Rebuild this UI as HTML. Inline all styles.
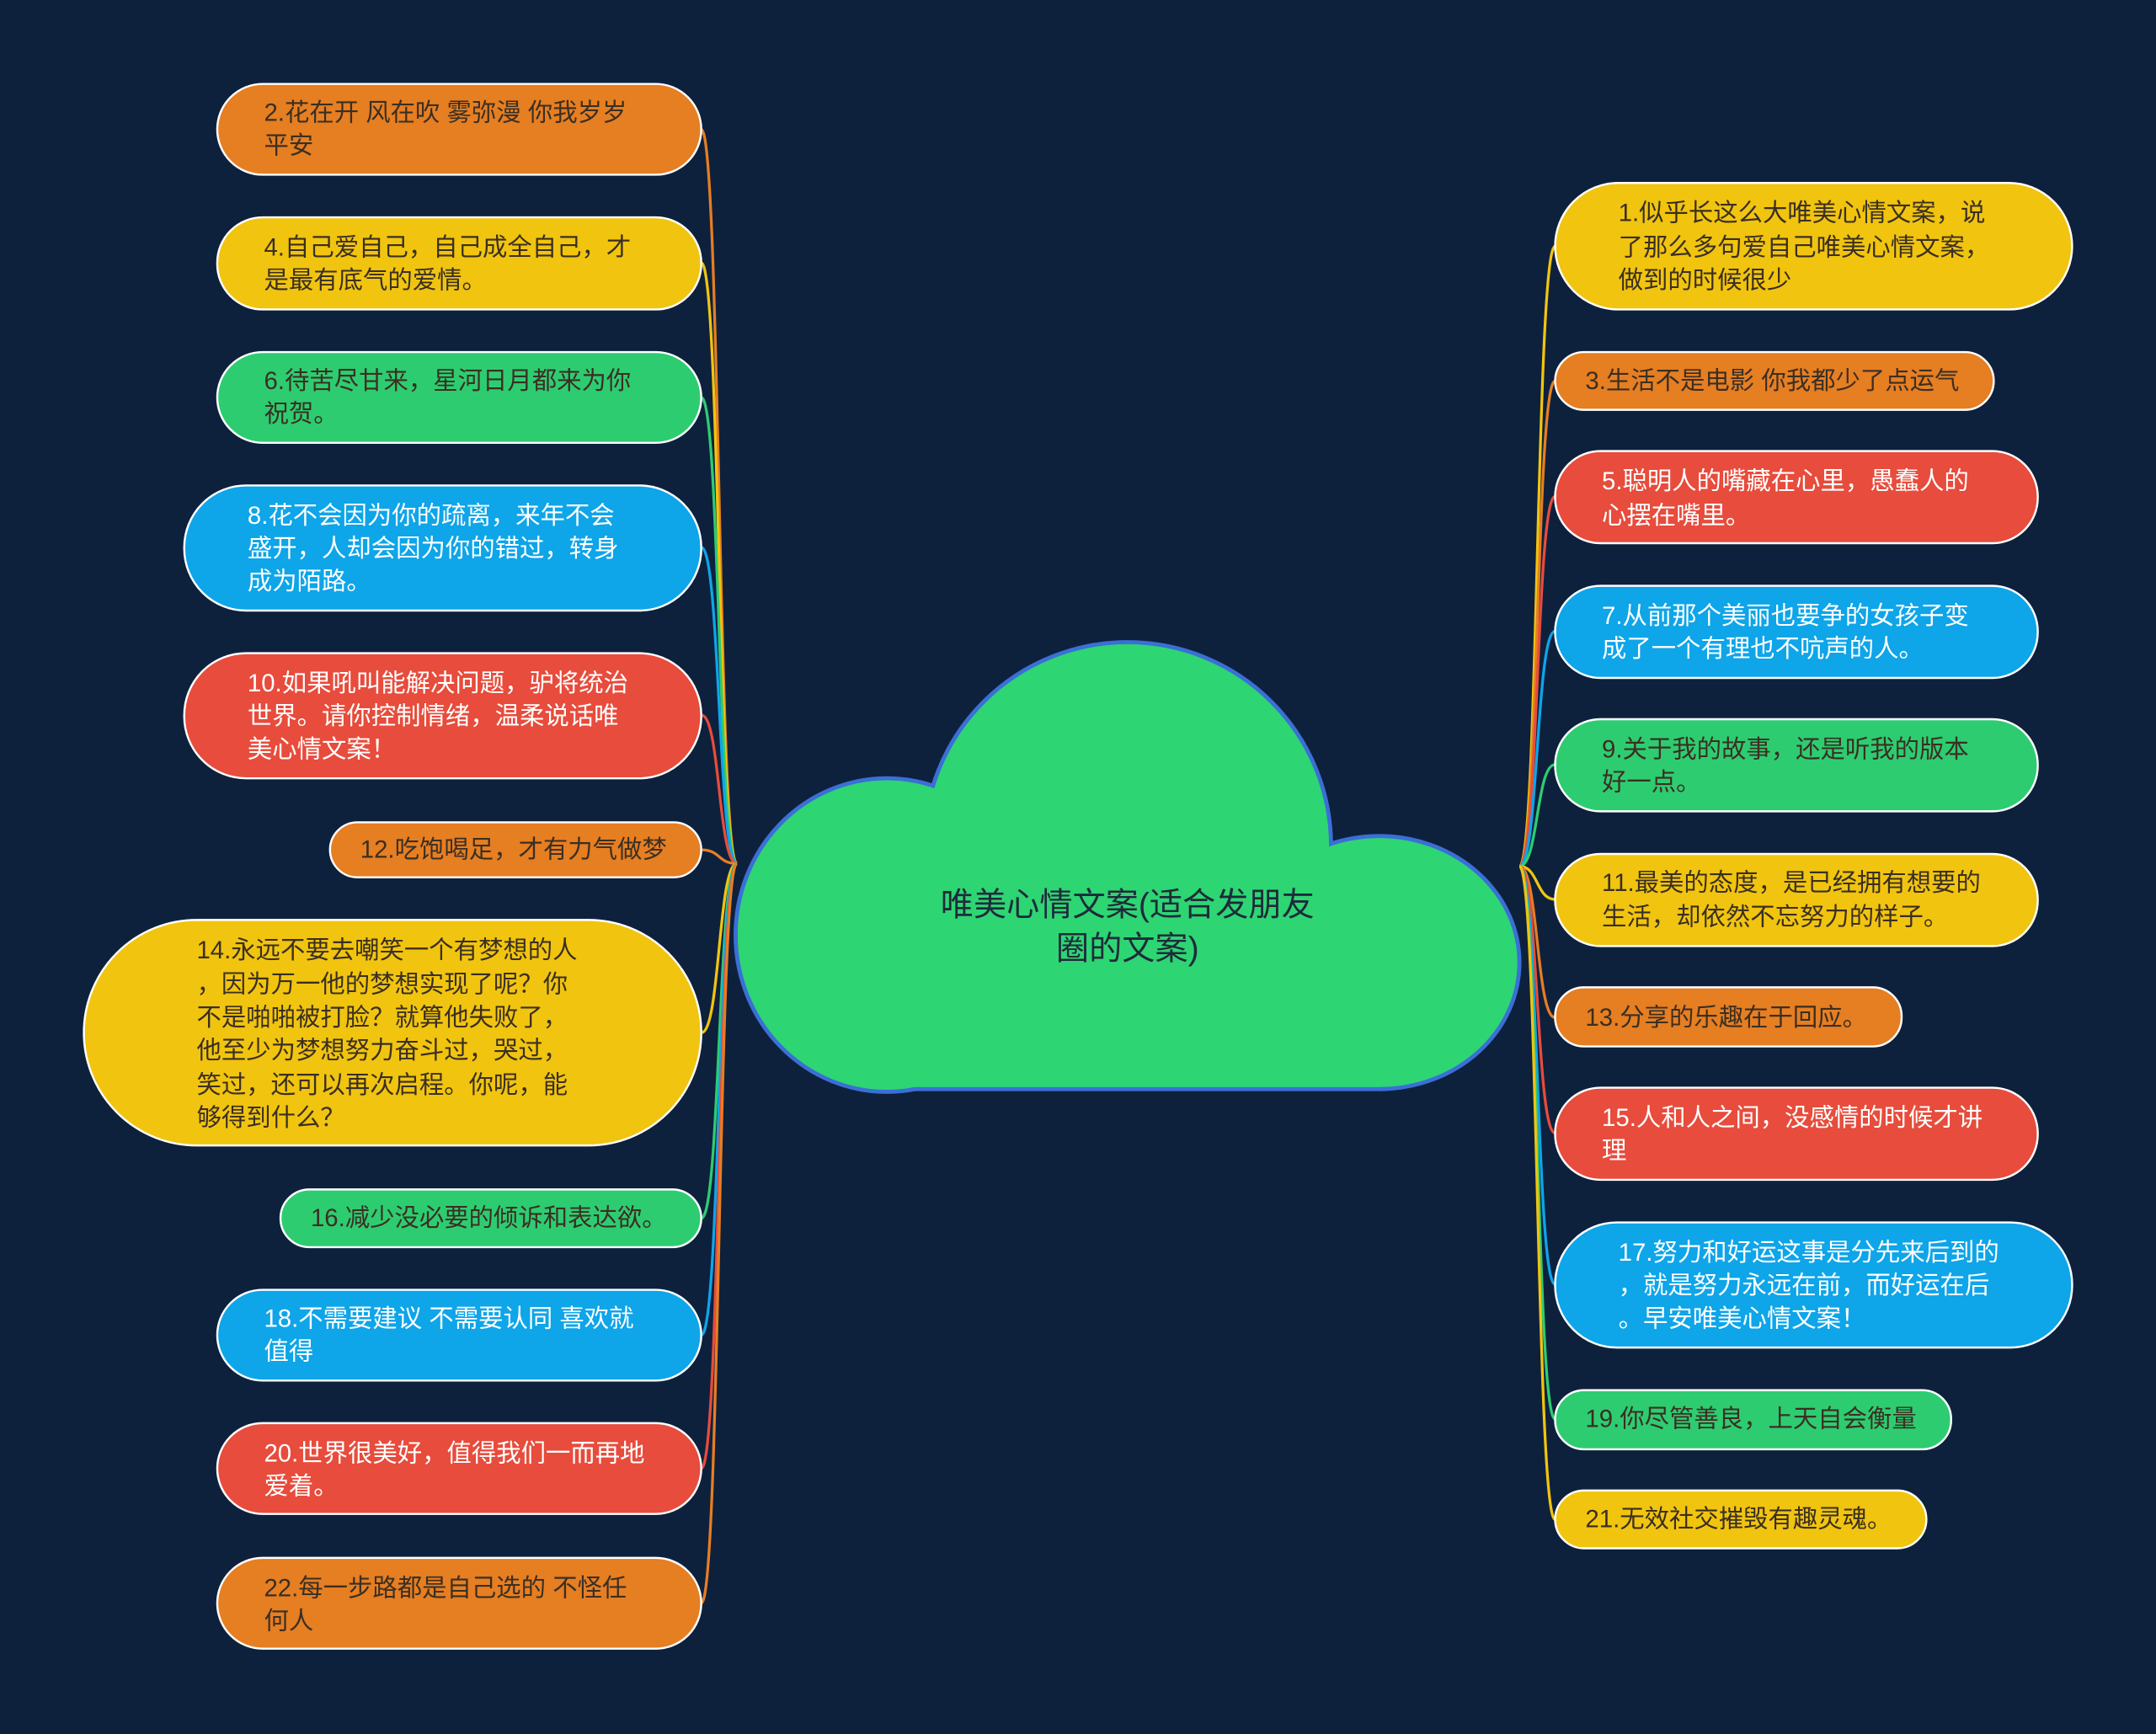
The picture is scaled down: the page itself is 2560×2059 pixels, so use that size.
<!DOCTYPE html>
<html><head><meta charset="utf-8"><style>
html,body{margin:0;padding:0;background:#0d213d;}
svg{display:block}
text{font-family:"Liberation Sans","Noto Sans CJK SC",sans-serif;font-size:18px;}
</style></head><body>
<svg width="2560" height="2059" viewBox="0 0 1568 1261" xmlns="http://www.w3.org/2000/svg">
<rect width="1568" height="1261" fill="#0d213d"/>
<g fill="none" stroke-width="2">
<path d="M536 628 C522 628 524 94 510 94" stroke="#e67e22"/>
<path d="M536 628 C522 628 524 191 510 191" stroke="#f1c40f"/>
<path d="M536 628 C522 628 524 289 510 289" stroke="#2ecc71"/>
<path d="M536 628 C522 628 524 398 510 398" stroke="#0ea5e9"/>
<path d="M536 628 C522 628 524 520 510 520" stroke="#e74c3c"/>
<path d="M536 628 C522 628 524 618 510 618" stroke="#e67e22"/>
<path d="M536 628 C522 628 524 751 510 751" stroke="#f1c40f"/>
<path d="M536 628 C522 628 524 886 510 886" stroke="#2ecc71"/>
<path d="M536 628 C522 628 524 971 510 971" stroke="#0ea5e9"/>
<path d="M536 628 C522 628 524 1068 510 1068" stroke="#e74c3c"/>
<path d="M536 628 C522 628 524 1166 510 1166" stroke="#e67e22"/>
<path d="M1105 630 C1119 630 1117 179 1131 179" stroke="#f1c40f"/>
<path d="M1105 630 C1119 630 1117 277 1131 277" stroke="#e67e22"/>
<path d="M1105 630 C1119 630 1117 361 1131 361" stroke="#e74c3c"/>
<path d="M1105 630 C1119 630 1117 459 1131 459" stroke="#0ea5e9"/>
<path d="M1105 630 C1119 630 1117 556 1131 556" stroke="#2ecc71"/>
<path d="M1105 630 C1119 630 1117 654 1131 654" stroke="#f1c40f"/>
<path d="M1105 630 C1119 630 1117 740 1131 740" stroke="#e67e22"/>
<path d="M1105 630 C1119 630 1117 824 1131 824" stroke="#e74c3c"/>
<path d="M1105 630 C1119 630 1117 934 1131 934" stroke="#0ea5e9"/>
<path d="M1105 630 C1119 630 1117 1032 1131 1032" stroke="#2ecc71"/>
<path d="M1105 630 C1119 630 1117 1105 1131 1105" stroke="#f1c40f"/>
</g>
<!-- cloud -->
<g stroke="#3b6fd6" stroke-width="3" fill="#2ed573">
<ellipse cx="645" cy="680" rx="110" ry="114"/>
<ellipse cx="1003" cy="700" rx="102" ry="92"/>
<circle cx="820" cy="615" r="148"/>
<rect x="645" y="690" width="358" height="102"/>
</g>
<g fill="#2ed573">
<ellipse cx="645" cy="680" rx="108.5" ry="112.5"/>
<ellipse cx="1003" cy="700" rx="100.5" ry="90.5"/>
<circle cx="820" cy="615" r="146.5"/>
<rect x="645" y="660" width="358" height="130.5"/>
</g>
<text x="820" y="666" text-anchor="middle" fill="#1e2b3a" style="font-size:24px">唯美心情文案(适合发朋友</text>
<text x="820" y="698" text-anchor="middle" fill="#1e2b3a" style="font-size:24px">圈的文案)</text>
<g stroke="#ffffff" stroke-width="1.5">
<rect x="158" y="61" width="352" height="66" rx="33" fill="#e67e22"/>
<rect x="158" y="158" width="352" height="67" rx="33" fill="#f1c40f"/>
<rect x="158" y="256" width="352" height="66" rx="33" fill="#2ecc71"/>
<rect x="134" y="353" width="376" height="91" rx="45" fill="#0ea5e9"/>
<rect x="134" y="475" width="376" height="91" rx="45" fill="#e74c3c"/>
<rect x="240" y="598" width="270" height="40" rx="20" fill="#e67e22"/>
<rect x="61" y="669" width="449" height="164" rx="82" fill="#f1c40f"/>
<rect x="204" y="865" width="306" height="42" rx="21" fill="#2ecc71"/>
<rect x="158" y="938" width="352" height="66" rx="33" fill="#0ea5e9"/>
<rect x="158" y="1035" width="352" height="66" rx="33" fill="#e74c3c"/>
<rect x="158" y="1133" width="352" height="66" rx="33" fill="#e67e22"/>
<rect x="1131" y="133" width="376" height="92" rx="46" fill="#f1c40f"/>
<rect x="1131" y="256" width="319" height="42" rx="21" fill="#e67e22"/>
<rect x="1131" y="328" width="351" height="67" rx="33" fill="#e74c3c"/>
<rect x="1131" y="426" width="351" height="67" rx="33" fill="#0ea5e9"/>
<rect x="1131" y="523" width="351" height="67" rx="33" fill="#2ecc71"/>
<rect x="1131" y="621" width="351" height="67" rx="33" fill="#f1c40f"/>
<rect x="1131" y="718" width="252" height="43" rx="21" fill="#e67e22"/>
<rect x="1131" y="791" width="351" height="67" rx="33" fill="#e74c3c"/>
<rect x="1131" y="889" width="376" height="91" rx="45" fill="#0ea5e9"/>
<rect x="1131" y="1011" width="288" height="43" rx="21" fill="#2ecc71"/>
<rect x="1131" y="1084" width="270" height="42" rx="21" fill="#f1c40f"/>
</g>
<g fill="#3a2f22" dominant-baseline="central">
<text x="192" y="82">2.花在开 风在吹 雾弥漫 你我岁岁</text><text x="192" y="106">平安</text>
<text x="192" y="180">4.自己爱自己，自己成全自己，才</text><text x="192" y="204">是最有底气的爱情。</text>
<text x="192" y="277">6.待苦尽甘来，星河日月都来为你</text><text x="192" y="301">祝贺。</text>
<text x="262" y="618">12.吃饱喝足，才有力气做梦</text>
<text x="143" y="691">14.永远不要去嘲笑一个有梦想的人</text>
<text x="143" y="716">，因为万一他的梦想实现了呢？你</text>
<text x="143" y="740">不是啪啪被打脸？就算他失败了，</text>
<text x="143" y="764">他至少为梦想努力奋斗过，哭过，</text>
<text x="143" y="789">笑过，还可以再次启程。你呢，能</text>
<text x="143" y="813">够得到什么？</text>
<text x="226" y="886">16.减少没必要的倾诉和表达欲。</text>
<text x="192" y="1155">22.每一步路都是自己选的 不怪任</text><text x="192" y="1179">何人</text>
<text x="1177" y="155">1.似乎长这么大唯美心情文案，说</text><text x="1177" y="180">了那么多句爱自己唯美心情文案，</text><text x="1177" y="204">做到的时候很少</text>
<text x="1153" y="277">3.生活不是电影 你我都少了点运气</text>
<text x="1165" y="545">9.关于我的故事，还是听我的版本</text><text x="1165" y="569">好一点。</text>
<text x="1165" y="642">11.最美的态度，是已经拥有想要的</text><text x="1165" y="667">生活，却依然不忘努力的样子。</text>
<text x="1153" y="740">13.分享的乐趣在于回应。</text>
<text x="1153" y="1032">19.你尽管善良，上天自会衡量</text>
<text x="1153" y="1105">21.无效社交摧毁有趣灵魂。</text>
</g>
<g fill="#ffffff" dominant-baseline="central">
<text x="180" y="375">8.花不会因为你的疏离，来年不会</text><text x="180" y="399">盛开，人却会因为你的错过，转身</text><text x="180" y="423">成为陌路。</text>
<text x="180" y="497">10.如果吼叫能解决问题，驴将统治</text><text x="180" y="521">世界。请你控制情绪，温柔说话唯</text><text x="180" y="545">美心情文案！</text>
<text x="192" y="959">18.不需要建议 不需要认同 喜欢就</text><text x="192" y="983">值得</text>
<text x="192" y="1057">20.世界很美好，值得我们一而再地</text><text x="192" y="1081">爱着。</text>
<text x="1165" y="350">5.聪明人的嘴藏在心里，愚蠢人的</text><text x="1165" y="375">心摆在嘴里。</text>
<text x="1165" y="448">7.从前那个美丽也要争的女孩子变</text><text x="1165" y="472">成了一个有理也不吭声的人。</text>
<text x="1165" y="813">15.人和人之间，没感情的时候才讲</text><text x="1165" y="837">理</text>
<text x="1177" y="911">17.努力和好运这事是分先来后到的</text><text x="1177" y="935">，就是努力永远在前，而好运在后</text><text x="1177" y="959">。早安唯美心情文案！</text>
</g>
</svg>
</body></html>
